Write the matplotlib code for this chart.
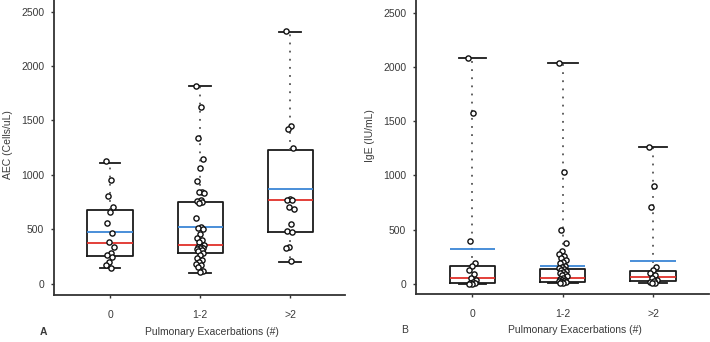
import matplotlib
matplotlib.use("Agg")
import matplotlib.pyplot as plt
import numpy as np

plt.rcParams['font.family'] = ['Liberation Sans', 'DejaVu Sans']

categories = ["0", "1-2", ">2"]

# Panel A: AEC (Cells/uL)
aec_q1 = [254, 285, 478]
aec_med = [374, 352, 766]
aec_mean = [478, 521, 867]
aec_q3 = [677, 747, 1229]
aec_lo = [141, 101, 202]
aec_hi = [1112, 1817, 2316]
aec_pts_0 = [1130, 950, 806, 708, 659, 561, 463, 380, 334, 285, 263, 242, 199, 168, 145]
aec_pts_12 = [1820, 1620, 1340, 1150, 1060, 940, 840, 840, 830, 770, 760, 750, 740, 600,
              520, 510, 500, 460, 420, 400, 380, 360, 340, 340, 330, 330, 320, 310, 300,
              280, 260, 240, 220, 200, 180, 170, 150, 120, 110]
aec_pts_2 = [2320, 1449, 1420, 1244, 780, 772, 770, 704, 690, 551, 487, 475, 340, 330, 205]

# Panel B: IgE (IU/mL)
ige_q1 = [6, 22, 25]
ige_med = [52, 52, 67]
ige_mean = [322, 169, 212]
ige_q3 = [169, 135, 120]
ige_lo = [0, 6, 6]
ige_hi = [2080, 2040, 1260]
ige_pts_0 = [2080, 1580, 400, 190, 170, 130, 90, 60, 40, 20, 10, 5, 3, 0]
ige_pts_12 = [2040, 1030, 500, 380, 300, 280, 260, 240, 220, 200, 190, 170, 160, 150, 140,
              130, 120, 110, 100, 90, 80, 70, 60, 50, 40, 35, 30, 25, 20, 15, 10, 5]
ige_pts_2 = [1260, 900, 710, 160, 130, 100, 80, 60, 40, 25, 15, 10, 5]

TXT = '#3a3a3a'
RED = '#e0302a'
BLUE = '#3a86d6'

fig = plt.figure(figsize=(7.1, 3.42), dpi=100)
W, H = 710, 342
axA = fig.add_axes([54 / W, (H - 295) / H, 291 / W, 295 / H])
axB = fig.add_axes([416 / W, (H - 294) / H, 293 / W, 294 / H])


def panel(ax, q1, med, mean, q3, lo, hi, pts, ylabel, xlim, ylim, capw):
    stats = []
    for i in range(3):
        stats.append(dict(q1=q1[i], med=med[i], mean=mean[i], q3=q3[i],
                          whislo=lo[i], whishi=hi[i], fliers=[]))
    ax.bxp(stats, positions=[0, 1, 2], widths=0.5, showmeans=True, meanline=True,
           showfliers=False, capwidths=capw,
           boxprops=dict(color='#1a1a1a', linewidth=1.3),
           whiskerprops=dict(color='#555555', linestyle=(0, (1, 3.5)), linewidth=1.3),
           capprops=dict(color='#1a1a1a', linewidth=1.3),
           medianprops=dict(color=RED, linewidth=1.3, linestyle='-'),
           meanprops=dict(color=BLUE, linewidth=1.3, linestyle='-'))
    golden = 0.618034
    for i, p in enumerate(pts):
        n = len(p)
        offs = np.array([((k * golden) % 1.0) - 0.5 for k in range(n)]) * 0.09
        ax.scatter(np.full(n, i) + offs, p, s=14, facecolors='white',
                   edgecolors='#111111', linewidths=1.0, zorder=5)
    ax.set_xlim(*xlim)
    ax.set_ylim(*ylim)
    ax.set_xticks([0, 1, 2])
    ax.set_xticklabels(categories)
    ax.set_yticks([0, 500, 1000, 1500, 2000, 2500])
    for s in ['top', 'right']:
        ax.spines[s].set_visible(False)
    for s in ['left', 'bottom']:
        ax.spines[s].set_color('#333333')
        ax.spines[s].set_linewidth(1.3)
    ax.tick_params(axis='x', length=2, width=1, color='#333333', pad=9,
                   labelsize=7.5, labelcolor=TXT)
    ax.tick_params(axis='y', length=2, width=1, color='#333333', pad=5,
                   labelsize=7.5, labelcolor=TXT)
    ax.set_ylabel(ylabel, fontsize=7.5, color=TXT)
    ax.set_xlabel('Pulmonary Exacerbations (#)', fontsize=7.5, color=TXT)
    ax.patch.set_alpha(0)


panel(axA, aec_q1, aec_med, aec_mean, aec_q3, aec_lo, aec_hi,
      [aec_pts_0, aec_pts_12, aec_pts_2], 'AEC (Cells/uL)',
      (-0.622, 2.61), (-104, 2607), [0.22, 0.25, 0.25])
panel(axB, ige_q1, ige_med, ige_mean, ige_q3, ige_lo, ige_hi,
      [ige_pts_0, ige_pts_12, ige_pts_2], 'IgE (IU/mL)',
      (-0.624, 2.62), (-92, 2617), [0.3, 0.33, 0.3])

axA.xaxis.set_label_coords(0.542, -0.108)
axB.xaxis.set_label_coords(0.543, -0.105)
axA.yaxis.set_label_coords(-0.14, 0.51)
axB.yaxis.set_label_coords(-0.14, 0.54)

fig.text(43 / W, 1 - 332 / H, 'A', fontsize=7.5, fontweight='bold', color=TXT,
         ha='center', va='center')
fig.text(405 / W, 1 - 330 / H, 'B', fontsize=7.5, color=TXT, ha='center', va='center')

fig.savefig('out.png', dpi=100)
